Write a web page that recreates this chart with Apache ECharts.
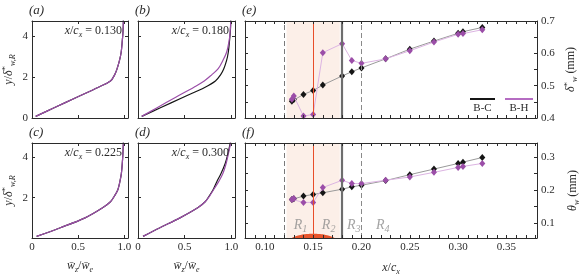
<!DOCTYPE html>
<html>
<head>
<meta charset="utf-8">
<script src="https://cdn.jsdelivr.net/npm/echarts@6/dist/echarts.min.js"></script>
<style>
  html, body { margin: 0; padding: 0; background: #fff; }
  #chart { width: 587px; height: 280px; }
</style>
</head>
<body>
<div id="chart"></div>
<script>
// wall-normal heights y/delta*_{w,R}, shared by the four profile panels
const profileY = [0.08, 0.5, 1.0, 1.5, 1.8, 2.1, 2.4, 2.8, 3.2, 3.7, 4.2, 4.75];

// crossflow profiles wz/we, (a) x/cx = 0.130
const wA_BC = [0.04, 0.24, 0.48, 0.72, 0.85, 0.895, 0.922, 0.948, 0.966, 0.977, 0.986, 0.99];
const wA_BH = [0.04, 0.24, 0.48, 0.72, 0.85, 0.895, 0.922, 0.948, 0.966, 0.977, 0.986, 0.99];
// (b) x/cx = 0.180
const wB_BC = [0.04, 0.24, 0.48, 0.72, 0.83, 0.885, 0.92, 0.95, 0.968, 0.98, 0.99, 0.995];
const wB_BH = [0.04, 0.205, 0.40, 0.60, 0.71, 0.79, 0.86, 0.91, 0.95, 0.975, 0.988, 0.995];
// (c) x/cx = 0.225
const wC_BC = [0.05, 0.30, 0.575, 0.765, 0.85, 0.895, 0.93, 0.952, 0.968, 0.978, 0.985, 0.99];
const wC_BH = [0.05, 0.30, 0.575, 0.765, 0.85, 0.895, 0.93, 0.952, 0.968, 0.978, 0.985, 0.99];
// (d) x/cx = 0.300
const wD_BC = [0.054, 0.23, 0.45, 0.64, 0.72, 0.765, 0.805, 0.845, 0.89, 0.935, 0.965, 0.99];
const wD_BH = [0.054, 0.23, 0.45, 0.64, 0.72, 0.77, 0.81, 0.865, 0.91, 0.945, 0.97, 0.995];

// streamwise stations x/cx and integral thicknesses (mm)
const stations = [0.128, 0.13, 0.14, 0.15, 0.16, 0.18, 0.19, 0.20, 0.225, 0.25, 0.275, 0.30, 0.305, 0.325];
const deltaBC = [0.452, 0.457, 0.473, 0.485, 0.502, 0.530, 0.543, 0.555, 0.583, 0.613, 0.638, 0.662, 0.667, 0.680];
const deltaBH = [0.458, 0.468, 0.406, 0.411, 0.602, 0.630, 0.578, 0.569, 0.583, 0.608, 0.635, 0.659, 0.661, 0.673];
const thetaBC = [0.172, 0.174, 0.182, 0.187, 0.192, 0.203, 0.210, 0.215, 0.229, 0.247, 0.264, 0.281, 0.285, 0.299];
const thetaBH = [0.172, 0.175, 0.163, 0.163, 0.208, 0.230, 0.220, 0.220, 0.230, 0.240, 0.254, 0.269, 0.272, 0.281];

// regions R1..R4 and the hump
const regionEdges = [0.1225, 0.15, 0.1775, 0.20];
const regionLabelX = [0.137, 0.166, 0.192, 0.222];
const regionNames = ['1', '2', '3', '4'];
const bumpX = [0.128, 0.132, 0.137, 0.143, 0.15, 0.157, 0.163, 0.168, 0.172];
const bumpY = [0.055, 0.060, 0.064, 0.067, 0.068, 0.067, 0.064, 0.060, 0.055];

// tick labels
const profileXLabels = [0, 0.5, 1.0];
const profileYLabels = [0, 2, 4];
const stationLabels = [0.10, 0.15, 0.20, 0.25, 0.30, 0.35];
const deltaLabels = [0.4, 0.5, 0.6, 0.7];
const thetaLabels = [0.1, 0.2, 0.3];
const panelStations = ['0.130', '0.180', '0.225', '0.300'];

const SERIF = 'Liberation Serif';
const INK = '#2b2b2b';
const BC_COLOR = '#151515';
const BH_COLOR = '#9b4ea8';
const REGION_GREY = '#8c8c8c';

const grids = [
  { left: 32, top: 21, width: 96, height: 97 },
  { left: 138, top: 21, width: 97, height: 97 },
  { left: 32, top: 143, width: 96, height: 95 },
  { left: 138, top: 143, width: 97, height: 95 },
  { left: 245, top: 21, width: 292, height: 97 },
  { left: 245, top: 143, width: 292, height: 95 },
];

const minorStationTicks = [];
for (let k = 8; k <= 38; k++) minorStationTicks.push(k / 100);

const rich = {
  i: { fontFamily: SERIF, fontStyle: 'italic', fontSize: 12, color: INK, lineHeight: 16 },
  r: { fontFamily: SERIF, fontSize: 12, color: INK, lineHeight: 16 },
  sub: { fontFamily: SERIF, fontStyle: 'italic', fontSize: 8, color: INK, lineHeight: 9, verticalAlign: 'bottom' },
  sup: { fontFamily: SERIF, fontSize: 9, color: INK, lineHeight: 9, verticalAlign: 'top' },
};

function axis(gridIndex, position, min, max, ticks, labels, fmt, extra) {
  return Object.assign({
    type: 'value', gridIndex, position, min, max, z: 5,
    axisLine: { show: true, onZero: false, lineStyle: { color: INK, width: 1 } },
    axisTick: { show: true, inside: true, length: 3, customValues: ticks, lineStyle: { color: INK, width: 1 } },
    axisLabel: labels
      ? { show: true, customValues: labels, formatter: fmt, color: INK, fontFamily: SERIF, fontSize: 11, margin: 4 }
      : { show: false },
    splitLine: { show: false },
  }, extra || {});
}

const fmt1 = v => (v === 0 ? '0' : v.toFixed(1));
const fmtInt = v => String(Math.round(v));
const fmt2 = v => v.toFixed(2);

const xAxes = [];
const yAxes = [];
const wName = '{i|w̄}{sub|z}{r|/}{i|w̄}{sub|e}';
const yName = '{i|y}{r|/}{i|δ}{sup|*}{sub|w,R}';

// profile panels: 0..3
for (let p = 0; p < 4; p++) {
  const bottomRow = p >= 2;
  const leftCol = p % 2 === 0;
  xAxes.push(axis(p, 'bottom', 0, 1.04, [0.5, 1.0], bottomRow ? profileXLabels : null, fmt1,
    bottomRow ? { name: wName, nameLocation: 'middle', nameGap: 20, nameTextStyle: { rich } } : {}));
  xAxes.push(axis(p, 'top', 0, 1.04, [0.5, 1.0], null));
  let yl = null;
  if (leftCol) yl = p === 0 ? profileYLabels : [2, 4];
  yAxes.push(axis(p, 'left', 0, 4.72, [2, 4], yl, fmtInt,
    leftCol ? { name: yName, nameLocation: 'middle', nameGap: 15, nameRotate: 90, nameTextStyle: { rich } } : {}));
  yAxes.push(axis(p, 'right', 0, 4.72, [2, 4], null));
}
// (e)
xAxes.push(axis(4, 'bottom', 0.0795, 0.3816, minorStationTicks, null));
xAxes.push(axis(4, 'top', 0.0795, 0.3816, minorStationTicks, null));
yAxes.push(axis(4, 'right', 0.4, 0.7, [0.45, 0.5, 0.55, 0.6, 0.65], deltaLabels, fmt1,
  { name: '{i|δ}{sup|*}{sub|w}{r| (mm)}', nameLocation: 'middle', nameGap: 26, nameRotate: 90, nameTextStyle: { rich } }));
yAxes.push(axis(4, 'left', 0.4, 0.7, [0.45, 0.5, 0.55, 0.6, 0.65], null));
// (f)
xAxes.push(axis(5, 'bottom', 0.0795, 0.3816, minorStationTicks, stationLabels, fmt2,
  { name: '{i|x}{r|/}{i|c}{sub|x}', nameLocation: 'middle', nameGap: 22, nameTextStyle: { rich } }));
xAxes.push(axis(5, 'top', 0.0795, 0.3816, minorStationTicks, null));
yAxes.push(axis(5, 'right', 0.055, 0.343, [0.1, 0.15, 0.2, 0.25, 0.3], thetaLabels, fmt1,
  { name: '{i|θ}{sub|w}{r| (mm)}', nameLocation: 'middle', nameGap: 28, nameRotate: 90, nameTextStyle: { rich } }));
yAxes.push(axis(5, 'left', 0.055, 0.343, [0.1, 0.15, 0.2, 0.25, 0.3], null));

const series = [];
const profiles = [[wA_BC, wA_BH], [wB_BC, wB_BH], [wC_BC, wC_BH], [wD_BC, wD_BH]];
profiles.forEach((pair, p) => {
  pair.forEach((w, s) => {
    series.push({
      type: 'line', xAxisIndex: p * 2, yAxisIndex: p * 2, z: 3,
      showSymbol: false, smooth: 0.35, silent: true,
      lineStyle: { color: s === 0 ? BC_COLOR : BH_COLOR, width: 1.2 },
      data: profileY.map((y, k) => [w[k], y]),
    });
  });
});

// shaded regions + region boundaries in (e) and (f)
[4, 5].forEach(g => {
  series.push({
    type: 'line', xAxisIndex: g * 2, yAxisIndex: g * 2, z: 1, silent: true, data: [],
    markArea: {
      silent: true,
      itemStyle: { color: '#fcefe8' },
      data: [[{ xAxis: regionEdges[0] }, { xAxis: regionEdges[2] }]],
    },
    markLine: {
      silent: true, symbol: 'none', label: { show: false },
      data: [
        { xAxis: regionEdges[0], lineStyle: { color: '#7a7a7a', width: 1, type: [5, 3] } },
        { xAxis: regionEdges[1], lineStyle: { color: '#e84e2a', width: 1, type: 'solid' } },
        { xAxis: regionEdges[2], lineStyle: { color: '#6e6e6e', width: 2.2, type: 'solid' } },
        { xAxis: regionEdges[3], lineStyle: { color: '#8a8a8a', width: 1, type: [5, 3] } },
      ],
    },
  });
});

function thicknessSeries(g, values, markColor, lineColor, z) {
  return {
    type: 'line', xAxisIndex: g * 2, yAxisIndex: g * 2, z, silent: true,
    symbol: 'diamond', symbolSize: [6, 7], showAllSymbol: true,
    itemStyle: { color: markColor },
    lineStyle: { color: lineColor, width: 1 },
    data: stations.map((x, k) => [x, values[k]]),
  };
}
series.push(thicknessSeries(4, deltaBC, BC_COLOR, '#9a9a9a', 3));
series.push(thicknessSeries(4, deltaBH, BH_COLOR, '#dcb4e2', 4));
series.push(thicknessSeries(5, thetaBC, BC_COLOR, '#9a9a9a', 3));
series.push(thicknessSeries(5, thetaBH, BH_COLOR, '#dcb4e2', 4));

// hump on the wall
series.push({
  type: 'line', xAxisIndex: 10, yAxisIndex: 10, z: 2, silent: true,
  showSymbol: false, smooth: true,
  lineStyle: { width: 0 },
  areaStyle: { color: '#e8552c', opacity: 1, origin: 'start' },
  data: bumpX.map((x, k) => [x, bumpY[k]]),
});

// region names
series.push({
  type: 'scatter', xAxisIndex: 10, yAxisIndex: 10, z: 4, silent: true,
  symbolSize: 0,
  label: {
    show: true, position: 'inside',
    fontFamily: SERIF, fontStyle: 'italic', fontSize: 14, color: REGION_GREY,
    formatter: p => '{r|R}{s|' + p.data.name + '}',
    rich: {
      r: { fontFamily: SERIF, fontStyle: 'italic', fontSize: 14, color: REGION_GREY, lineHeight: 18 },
      s: { fontFamily: SERIF, fontSize: 10, color: REGION_GREY, lineHeight: 11, verticalAlign: 'bottom' },
    },
  },
  data: regionLabelX.map((x, k) => ({ value: [x, 0.094], name: regionNames[k] })),
});

function txt(x, y, text, align, extra) {
  return {
    type: 'text', x, y, z: 10, silent: true,
    style: Object.assign({
      text, rich, align, textAlign: align, verticalAlign: 'middle', textVerticalAlign: 'middle',
      fill: INK, font: '12px "Liberation Serif"',
    }, extra || {}),
  };
}

const graphic = [];
['(a)', '(b)', '(c)', '(d)', '(e)', '(f)'].forEach((lab, k) => {
  const g = grids[k];
  graphic.push(txt(g.left - 3, g.top - 10, lab, 'left', { font: 'italic 13px "Liberation Serif"' }));
});
panelStations.forEach((s, k) => {
  const g = grids[k];
  graphic.push(txt(g.left + g.width - 6, g.top + 10, '{i|x}{r|/}{i|c}{sub|x}{r| = ' + s + '}', 'right'));
});
// legend in (e)
graphic.push({ type: 'line', z: 10, silent: true, shape: { x1: 470, y1: 99, x2: 495, y2: 99 }, style: { stroke: BC_COLOR, lineWidth: 2 } });
graphic.push({ type: 'line', z: 10, silent: true, shape: { x1: 505, y1: 99, x2: 533, y2: 99 }, style: { stroke: '#b56cc2', lineWidth: 2 } });
graphic.push(txt(482.5, 108, 'B-C', 'center', { font: '11px "Liberation Serif"' }));
graphic.push(txt(519, 108, 'B-H', 'center', { font: '11px "Liberation Serif"' }));

const chart = echarts.init(document.getElementById('chart'), null, { renderer: 'canvas' });
chart.setOption({
  animation: false,
  backgroundColor: '#fff',
  textStyle: { fontFamily: SERIF },
  grid: grids.map(g => Object.assign({ outerBoundsMode: 'none', containLabel: false }, g)),
  xAxis: xAxes,
  yAxis: yAxes,
  series,
  graphic,
});
</script>
</body>
</html>
